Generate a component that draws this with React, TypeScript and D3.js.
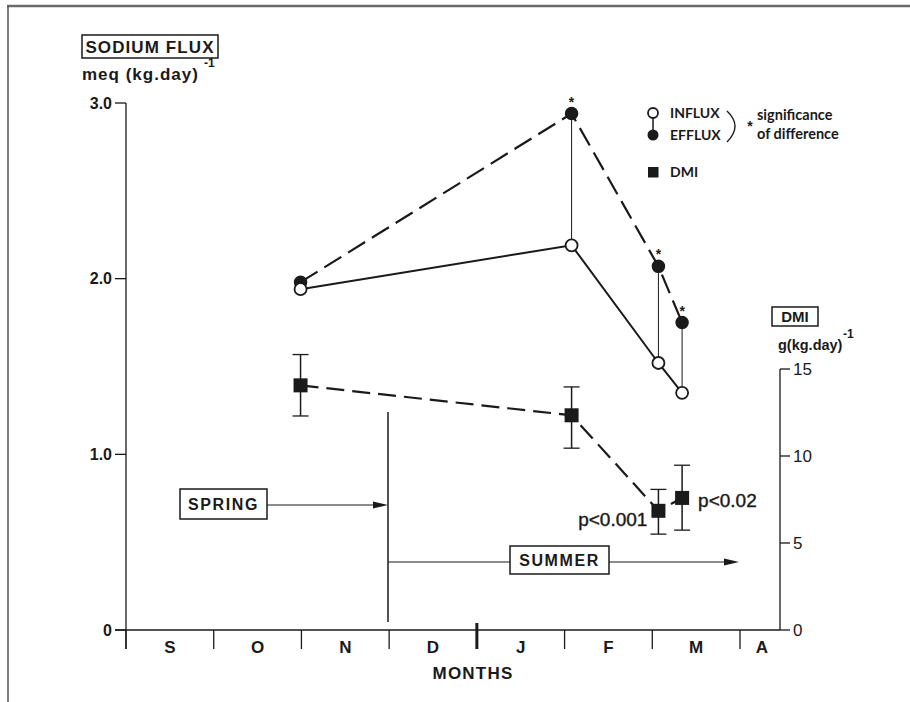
import React from "react";
import * as d3 from "d3";

const months = ["S", "O", "N", "D", "J", "F", "M", "A"];
const sampleMonth = [1.99, 5.08, 6.07, 6.34];
const influx = [1.94, 2.19, 1.52, 1.35];
const efflux = [1.98, 2.94, 2.07, 1.75];
const significant = [false, true, true, true];
const dmi = [14.06, 12.34, 6.85, 7.59];
const dmiHigh = [15.83, 13.97, 8.08, 9.47];
const dmiLow = [12.3, 10.45, 5.51, 5.74];
const fluxTicks = [0, 1, 2, 3];
const fluxTickLabels = ["0", "1.0", "2.0", "3.0"];
const dmiTicks = [0, 5, 10, 15];
const pLabels = ["", "", "p<0.001", "p<0.02"];

const FONT = "'Liberation Sans', Arial, sans-serif";
const LFONT = "Lato, 'Open Sans', sans-serif";
const INK = "#1a1a1a";

export default function App() {
  const x = d3.scaleLinear().domain([0, 7]).range([126, 740]);
  const xEnd = 780;
  const yF = d3.scaleLinear().domain([0, 3]).range([630, 103]);
  const yD = d3.scaleLinear().domain([0, 15]).range([630, 369]);

  const lineF = d3
    .line<number>()
    .x((_, i) => x(sampleMonth[i]))
    .y((d) => yF(d));
  const lineD = d3
    .line<number>()
    .x((_, i) => x(sampleMonth[i]))
    .y((d) => yD(d));

  const arrow = (tipX: number, y: number) =>
    `M${tipX},${y} L${tipX - 15},${y - 3.5} L${tipX - 15},${y + 3.5} Z`;

  return (
    <svg
      width={910}
      height={702}
      style={{ position: "absolute", left: 0, top: 0, background: "#fff" }}
    >
      {/* frame */}
      <line x1={7} x2={910} y1={6} y2={6} stroke="#6b6b6b" strokeWidth={2.5} />
      <line x1={8} x2={8} y1={6} y2={702} stroke="#555" strokeWidth={1.5} />

      {/* left axis title */}
      <rect x={82} y={35} width={136} height={23} fill="none" stroke={INK} strokeWidth={1.5} />
      <text x={150} y={53} textAnchor="middle" fontFamily={FONT} fontWeight="bold" fontSize={17} letterSpacing={1.1} fill={INK}>
        SODIUM FLUX
      </text>
      <text x={82} y={80} fontFamily={FONT} fontWeight="bold" fontSize={17} letterSpacing={1} fill={INK}>
        meq (kg.day)
      </text>
      <text x={204} y={67} fontFamily={FONT} fontWeight="bold" fontSize={12} fill={INK}>
        -1
      </text>

      {/* left axis */}
      <line x1={126} x2={126} y1={yF(3)} y2={649} stroke={INK} strokeWidth={1.3} />
      {fluxTicks.map((t, i) => (
        <g key={"ft" + i}>
          <line x1={115} x2={126} y1={yF(t)} y2={yF(t)} stroke={INK} strokeWidth={1.3} />
          <text x={112} y={yF(t)} dy="0.36em" textAnchor="end" fontFamily={FONT} fontWeight="bold" fontSize={16} fill={INK}>
            {fluxTickLabels[i]}
          </text>
        </g>
      ))}

      {/* bottom axis */}
      <line x1={115} x2={xEnd} y1={630} y2={630} stroke={INK} strokeWidth={1.3} />
      {d3.range(0, 8).map((i) => (
        <line
          key={"mt" + i}
          x1={x(i)}
          x2={x(i)}
          y1={i === 4 ? 623 : 630}
          y2={649}
          stroke={INK}
          strokeWidth={i === 4 ? 3 : 1.3}
        />
      ))}
      {months.map((m, i) => (
        <text
          key={"ml" + i}
          x={i === 7 ? (x(7) + xEnd) / 2 + 2 : x(i + 0.5)}
          y={653}
          textAnchor="middle"
          fontFamily={FONT}
          fontWeight="bold"
          fontSize={17}
          fill={INK}
        >
          {m}
        </text>
      ))}
      <text x={473} y={679} textAnchor="middle" fontFamily={FONT} fontWeight="bold" fontSize={17} letterSpacing={1.2} fill={INK}>
        MONTHS
      </text>

      {/* right axis */}
      <line x1={xEnd} x2={xEnd} y1={yD(15)} y2={630} stroke={INK} strokeWidth={1.3} />
      {dmiTicks.map((t, i) => (
        <g key={"dt" + i}>
          <line x1={xEnd} x2={790} y1={yD(t)} y2={yD(t)} stroke={INK} strokeWidth={1.3} />
          <text x={793} y={yD(t)} dy="0.36em" fontFamily={FONT} fontSize={17} fill={INK}>
            {t}
          </text>
        </g>
      ))}
      <rect x={772} y={307} width={46} height={19} fill="none" stroke={INK} strokeWidth={1.5} />
      <text x={795} y={322} textAnchor="middle" fontFamily={FONT} fontWeight="bold" fontSize={15} fill={INK}>
        DMI
      </text>
      <text x={778} y={350} fontFamily={FONT} fontWeight="bold" fontSize={14.5} fill={INK}>
        g(kg.day)
      </text>
      <text x={843} y={338} fontFamily={FONT} fontWeight="bold" fontSize={12} fill={INK}>
        -1
      </text>

      {/* seasons */}
      <line x1={388} x2={388} y1={412} y2={622} stroke={INK} strokeWidth={1.5} />
      <rect x={180} y={489} width={87} height={30} fill="none" stroke={INK} strokeWidth={1.5} />
      <text x={223.5} y={510} textAnchor="middle" fontFamily={FONT} fontWeight="bold" fontSize={16} letterSpacing={1.6} fill={INK}>
        SPRING
      </text>
      <line x1={267} x2={376} y1={505} y2={505} stroke={INK} strokeWidth={1.2} />
      <path d={arrow(388, 505)} fill={INK} />
      <line x1={388} x2={510} y1={562} y2={562} stroke={INK} strokeWidth={1.2} />
      <rect x={510} y={546} width={99} height={28} fill="none" stroke={INK} strokeWidth={1.5} />
      <text x={559.5} y={566} textAnchor="middle" fontFamily={FONT} fontWeight="bold" fontSize={16} letterSpacing={1.6} fill={INK}>
        SUMMER
      </text>
      <line x1={609} x2={728} y1={562} y2={562} stroke={INK} strokeWidth={1.2} />
      <path d={arrow(739, 562)} fill={INK} />

      {/* significance connectors */}
      {sampleMonth.map((m, i) =>
        significant[i] ? (
          <g key={"sig" + i}>
            <line x1={x(m)} x2={x(m)} y1={yF(influx[i])} y2={yF(efflux[i])} stroke={INK} strokeWidth={1} />
            <text x={x(m)} y={yF(efflux[i]) - 7} textAnchor="middle" fontFamily={FONT} fontWeight="bold" fontSize={14} fill={INK}>
              *
            </text>
          </g>
        ) : null
      )}

      {/* flux lines */}
      <path d={lineF(efflux) || ""} fill="none" stroke={INK} strokeWidth={2.2} strokeDasharray="20,8" />
      <path d={lineF(influx) || ""} fill="none" stroke={INK} strokeWidth={2} />

      {/* DMI */}
      <path d={lineD(dmi) || ""} fill="none" stroke={INK} strokeWidth={2.2} strokeDasharray="18,8" />
      {sampleMonth.map((m, i) => (
        <g key={"dmi" + i}>
          <line x1={x(m)} x2={x(m)} y1={yD(dmiHigh[i])} y2={yD(dmiLow[i])} stroke={INK} strokeWidth={1.5} />
          <line x1={x(m) - 8} x2={x(m) + 8} y1={yD(dmiHigh[i])} y2={yD(dmiHigh[i])} stroke={INK} strokeWidth={1.3} />
          <line x1={x(m) - 8} x2={x(m) + 8} y1={yD(dmiLow[i])} y2={yD(dmiLow[i])} stroke={INK} strokeWidth={1.3} />
          <rect x={x(m) - 7} y={yD(dmi[i]) - 7} width={14} height={14} fill={INK} />
          {pLabels[i] ? (
            <text
              x={i === 2 ? x(m) - 11 : x(m) + 16}
              y={yD(dmi[i]) + (i === 2 ? 8 : 2)}
              dy="0.36em"
              textAnchor={i === 2 ? "end" : "start"}
              fontFamily={FONT}
              fontSize={19}
              stroke={INK}
              strokeWidth={0.4}
              fill={INK}
            >
              {pLabels[i]}
            </text>
          ) : null}
        </g>
      ))}

      {/* flux markers */}
      {sampleMonth.map((m, i) => (
        <g key={"fm" + i}>
          <circle cx={x(m)} cy={yF(efflux[i])} r={6} fill={INK} stroke={INK} strokeWidth={1.5} />
          <circle cx={x(m)} cy={yF(influx[i])} r={6} fill="#fff" stroke={INK} strokeWidth={1.8} />
        </g>
      ))}

      {/* legend */}
      <line x1={653} x2={653} y1={113} y2={135} stroke={INK} strokeWidth={1.5} />
      <circle cx={653} cy={113} r={5} fill="#fff" stroke={INK} strokeWidth={1.8} />
      <circle cx={653} cy={135} r={5.5} fill={INK} />
      <text x={670} y={118} fontFamily={LFONT} fontWeight="bold" fontSize={14} fill={INK}>
        INFLUX
      </text>
      <text x={670} y={140} fontFamily={LFONT} fontWeight="bold" fontSize={14} fill={INK}>
        EFFLUX
      </text>
      <path d="M727,111 Q743,126 727,142" fill="none" stroke={INK} strokeWidth={1.4} />
      <text x={750} y={131} textAnchor="middle" fontFamily={FONT} fontWeight="bold" fontSize={14} fill={INK}>
        *
      </text>
      <text x={757} y={120} fontFamily={LFONT} fontWeight="bold" fontSize={14.5} fill={INK}>
        significance
      </text>
      <text x={757} y={139} fontFamily={LFONT} fontWeight="bold" fontSize={14.5} fill={INK}>
        of difference
      </text>
      <rect x={648} y={167} width={10.5} height={10.5} fill={INK} />
      <text x={670} y={177} fontFamily={LFONT} fontWeight="bold" fontSize={14} fill={INK}>
        DMI
      </text>
    </svg>
  );
}
